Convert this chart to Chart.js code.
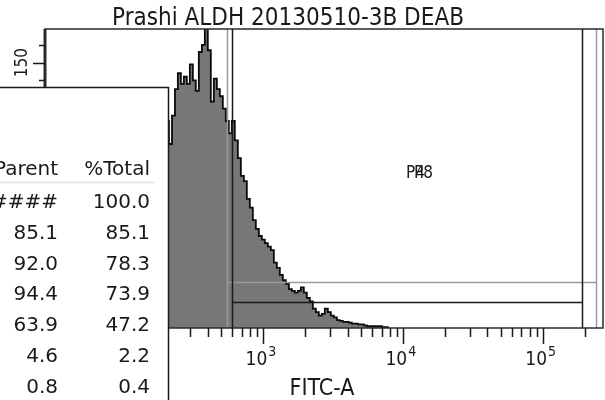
<!DOCTYPE html>
<html>
<head>
<meta charset="utf-8">
<script src="https://cdn.jsdelivr.net/npm/chart.js@4.4.0/dist/chart.umd.min.js"></script>
<style>
  html, body { margin: 0; padding: 0; background: #fff; }
  #wrap { width: 605px; height: 400px; }
</style>
</head>
<body>
<div id="wrap"><canvas id="canvas1" width="605" height="400"></canvas></div>
<script>
var title = "Prashi ALDH 20130510-3B DEAB";
var axisName = "FITC-A";

// histogram bins (FITC-A) and event counts
var fitc = [178, 187, 196, 206, 217, 228, 239, 251, 264, 277, 291, 306, 321, 337, 355, 373,
  391, 411, 432, 454, 477, 501, 526, 553, 581, 610, 641, 674, 708, 744, 781, 821, 862, 906,
  952, 1000, 1050, 1104, 1160, 1218, 1280, 1345, 1413, 1485, 1560, 1638, 1721, 1809, 1900,
  1996, 2097, 2204, 2315, 2432, 2555, 2685, 2821, 2964, 3114, 3271, 3437, 3611, 3794, 3986,
  4188, 4400, 4622, 4856, 5102, 5360, 5632, 5917, 6216, 6531, 6862, 7209, 7574, 7957];
var counts = [95, 100, 106, 117, 104, 120, 135, 144, 138, 142, 138, 149, 140, 134, 156, 160,
  174, 157, 128, 141, 135, 131, 124, 117, 110, 117, 106, 96, 86, 83, 73, 68, 61, 56,
  52, 50, 48, 46, 44, 37, 34, 30, 27, 25, 22, 21, 20, 21, 23,
  20, 17, 15, 11, 9, 7, 8, 11, 9, 7, 6, 4.5, 4, 3.5, 3.5,
  3, 2.5, 2.5, 2, 2, 1.5, 1, 1, 1, 1, 1, 0.5, 0.5, 0];

var xMinorTicks = [200, 300, 400, 500, 600, 700, 800, 900,
  2000, 3000, 4000, 5000, 6000, 7000, 8000, 9000,
  20000, 30000, 40000, 50000, 60000, 70000, 80000, 90000, 200000];
var xMajorTicks = [1000, 10000, 100000];
var xMajorExp = ["3", "4", "5"];
var yTicks = [10, 20, 30, 40, 50, 60, 70, 80, 90, 100, 110, 120, 130, 140, 150, 160];
var yLabelTicks = [50, 100, 150];

// gates: [low, high, level]
var gateGrey = [553, 239000, 26];
var gateBlack = [601, 190000, 14.7];
var gateNames = ["P4", "P8"];

var tableHead = ["%Parent", "%Total"];
var pctParent = ["####", "85.1", "92.0", "94.4", "63.9", "4.6", "0.8"];
var pctTotal = ["100.0", "85.1", "78.3", "73.9", "47.2", "2.2", "0.4"];

var narrow = '"DejaVu Sans Condensed", "DejaVu Sans", sans-serif';

var overlay = {
  id: 'overlay',
  afterDatasetsDraw: function (chart) {
    var ctx = chart.ctx, a = chart.chartArea;
    var xs = chart.scales.x, ys = chart.scales.y;
    ctx.save();

    function gate(g, color) {
      var x1 = Math.round(xs.getPixelForValue(g[0])) + 0.5;
      var x2 = Math.round(xs.getPixelForValue(g[1])) + 0.5;
      var yy = Math.round(ys.getPixelForValue(g[2])) + 0.5;
      ctx.strokeStyle = color;
      ctx.lineWidth = 1.5;
      ctx.beginPath();
      ctx.moveTo(x1, a.top); ctx.lineTo(x1, a.bottom);
      ctx.moveTo(x2, a.top); ctx.lineTo(x2, a.bottom);
      ctx.moveTo(x1, yy); ctx.lineTo(x2, yy);
      ctx.stroke();
    }
    gate(gateGrey, '#9a9a9a');
    gate(gateBlack, '#1a1a1a');

    // frame
    ctx.strokeStyle = '#2a2a2a';
    ctx.lineWidth = 1.5;
    ctx.strokeRect(a.left, a.top, a.right - a.left, a.bottom - a.top);
    ctx.lineWidth = 3;
    ctx.beginPath();
    ctx.moveTo(a.left, a.top); ctx.lineTo(a.left, a.bottom);
    ctx.stroke();

    // x ticks
    ctx.lineWidth = 1.5;
    ctx.strokeStyle = '#1a1a1a';
    ctx.beginPath();
    xMinorTicks.forEach(function (v) {
      var px = Math.round(xs.getPixelForValue(v)) + 0.5;
      ctx.moveTo(px, a.bottom); ctx.lineTo(px, a.bottom + 9);
    });
    xMajorTicks.forEach(function (v) {
      var px = Math.round(xs.getPixelForValue(v)) + 0.5;
      ctx.moveTo(px, a.bottom); ctx.lineTo(px, a.bottom + 16);
    });
    // y ticks
    yTicks.forEach(function (v) {
      var py = Math.round(ys.getPixelForValue(v)) + 0.5;
      var len = yLabelTicks.indexOf(v) >= 0 ? 12 : 6;
      ctx.moveTo(a.left, py); ctx.lineTo(a.left - len, py);
    });
    ctx.stroke();

    ctx.fillStyle = '#1a1a1a';
    xMajorTicks.forEach(function (v, i) {
      var px = xs.getPixelForValue(v);
      ctx.font = '19px ' + narrow;
      ctx.textAlign = 'right';
      ctx.textBaseline = 'alphabetic';
      ctx.fillText('10', px + 4, 365);
      ctx.font = '14px ' + narrow;
      ctx.textAlign = 'left';
      ctx.fillText(xMajorExp[i], px + 5, 356);
    });
    yLabelTicks.forEach(function (v) {
      var py = ys.getPixelForValue(v);
      ctx.save();
      ctx.translate(27, py);
      ctx.rotate(-Math.PI / 2);
      ctx.font = '17px ' + narrow;
      ctx.textAlign = 'center';
      ctx.textBaseline = 'alphabetic';
      ctx.fillText(String(v), 0, 0);
      ctx.restore();
    });

    // gate labels
    ctx.font = '17px ' + narrow;
    ctx.textAlign = 'left';
    ctx.fillText(gateNames[0], 406, 178);
    ctx.fillText(gateNames[1], 414, 178);

    // axis title
    ctx.font = '23px ' + narrow;
    ctx.textAlign = 'center';
    ctx.fillText(axisName, 322, 395);

    // title
    ctx.font = '24px ' + narrow;
    ctx.fillText(title, 288, 25);

    // statistics panel
    ctx.fillStyle = '#fff';
    ctx.fillRect(0, 87, 168, 313);
    ctx.strokeStyle = '#1a1a1a';
    ctx.lineWidth = 1.5;
    ctx.beginPath();
    ctx.moveTo(0, 87.5); ctx.lineTo(168.5, 87.5); ctx.lineTo(168.5, 400);
    ctx.stroke();
    ctx.strokeStyle = '#e9e1cf';
    ctx.beginPath();
    ctx.moveTo(0, 182.5); ctx.lineTo(155, 182.5);
    ctx.stroke();

    ctx.fillStyle = '#1a1a1a';
    ctx.font = '20px "DejaVu Sans", sans-serif';
    ctx.textAlign = 'right';
    ctx.fillText(tableHead[0], 58, 175);
    ctx.fillText(tableHead[1], 150, 175);
    for (var i = 0; i < pctParent.length; i++) {
      var by = 208 + i * 30.8;
      ctx.fillText(pctParent[i], 58, by);
      ctx.fillText(pctTotal[i], 150, by);
    }
    ctx.restore();
  }
};

new Chart(document.getElementById('canvas1'), {
  type: 'line',
  data: {
    datasets: [{
      data: fitc.map(function (v, i) { return { x: v, y: counts[i] }; }),
      stepped: 'middle',
      fill: 'origin',
      backgroundColor: '#777777',
      borderColor: '#0a0a0a',
      borderWidth: 1.8,
      pointRadius: 0
    }]
  },
  options: {
    responsive: false,
    animation: false,
    events: [],
    layout: { padding: { left: 45, top: 29, right: 2, bottom: 72 } },
    plugins: { legend: { display: false }, tooltip: { enabled: false } },
    scales: {
      x: { type: 'logarithmic', min: 27.5, max: 268000, display: false },
      y: { type: 'linear', min: 0, max: 169, display: false }
    }
  },
  plugins: [overlay]
});
</script>
</body>
</html>
